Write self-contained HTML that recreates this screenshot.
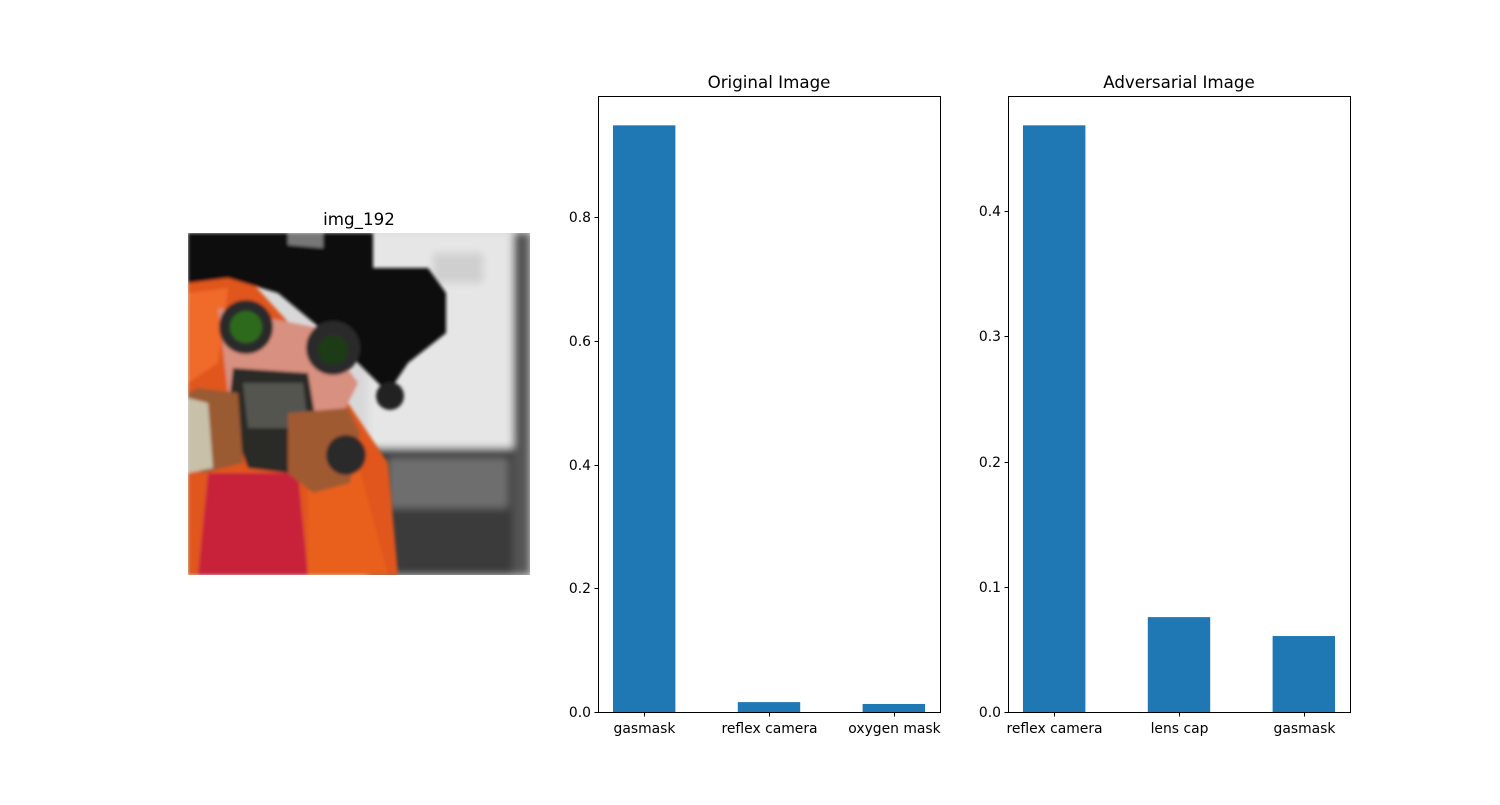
<!DOCTYPE html>
<html><head><meta charset="utf-8"><style>
html,body{margin:0;padding:0;background:#fff;}
svg text{font-family:"DejaVu Sans","Liberation Sans",sans-serif;}
</style></head><body>
<svg id="fig" width="1500" height="800" viewBox="0 0 1500 800">
<g>
<text x="359" y="225" font-size="16.7" text-anchor="middle">img_192</text>
<svg x="188" y="233" width="342" height="342" viewBox="0 0 342 342">
<defs>
<filter id="bl"><feGaussianBlur stdDeviation="4"/></filter>
<filter id="bl2"><feGaussianBlur stdDeviation="1.5"/></filter>
</defs>
<rect width="342" height="342" fill="#d8d8d8"/>
<g filter="url(#bl)">
<rect x="180" y="0" width="162" height="220" fill="#e6e6e6"/>
<rect x="180" y="215" width="162" height="127" fill="#3a3a3a"/>
<rect x="200" y="225" width="120" height="50" fill="#6e6e6e"/>
<rect x="325" y="0" width="17" height="342" fill="#555"/>
<rect x="245" y="20" width="50" height="30" fill="#cfcfcf"/>
</g>
<g filter="url(#bl2)">
<path d="M0 40 L60 45 L110 100 L160 170 L200 230 L210 342 L0 342 Z" fill="#e0561e"/>
<path d="M0 60 L40 55 L30 130 L0 150 Z" fill="#f06a2a"/>
<path d="M20 240 L110 240 L120 342 L10 342 Z" fill="#c8203a"/>
<path d="M120 240 L170 230 L200 342 L120 342 Z" fill="#e8601e"/>
<path d="M0 0 L185 0 L185 35 L240 35 L258 60 L258 100 L220 130 L200 160 L150 110 L90 60 L40 45 L0 50 Z" fill="#111"/>
<path d="M100 0 L135 0 L135 15 L100 12 Z" fill="#777"/>
<path d="M30 75 L130 95 L170 150 L150 190 L100 200 L40 160 Z" fill="#d89080"/>
<circle cx="58" cy="94" r="27" fill="#2a2a2a"/>
<circle cx="58" cy="94" r="16" fill="#2e6a1e"/>
<circle cx="145" cy="115" r="27" fill="#2a2a2a"/>
<circle cx="145" cy="117" r="15" fill="#1c3a18"/>
<circle cx="202" cy="163" r="14" fill="#222"/>
<path d="M45 135 L120 140 L130 200 L100 240 L60 235 L40 180 Z" fill="#2a2a28"/>
<path d="M55 150 L115 150 L120 195 L60 195 Z" fill="#555550"/>
<path d="M10 155 L50 160 L55 230 L15 240 L0 230 L0 160 Z" fill="#9a5a30"/>
<path d="M0 165 L20 170 L25 235 L0 240 Z" fill="#c8c0a8"/>
<path d="M100 180 L160 175 L172 200 L162 250 L125 260 L100 240 Z" fill="#a05a30"/>
<circle cx="158" cy="222" r="20" fill="#2a2a2a"/>
</g>
</svg>
</g>
<g id="c1"></g>
<g id="c2"></g>
</svg>
<script>
const origCategories = ["gasmask","reflex camera","oxygen mask"];
const origValues = [0.949, 0.016, 0.013];
const origTicks = [0.0,0.2,0.4,0.6,0.8];
const advCategories = ["reflex camera","lens cap","gasmask"];
const advValues = [0.4687, 0.0758, 0.0607];
const advTicks = [0.0,0.1,0.2,0.3,0.4];
const NS="http://www.w3.org/2000/svg";
function mk(parent,tag,attrs,txt){const e=document.createElementNS(NS,tag);for(const k in attrs)e.setAttribute(k,attrs[k]);if(txt!==undefined)e.textContent=txt;parent.appendChild(e);return e;}
function chart(gid,left,title,cats,vals,ticks,prefix){
  const g=document.getElementById(gid);
  const top=96,bottom=712,w=342;
  const ymax=Math.max(...vals)*1.05;
  const y=v=>bottom-(v/ymax)*(bottom-top);
  const x0=-0.37,x1=cats.length-1+0.37;
  const x=i=>left+(i-x0)/(x1-x0)*w;
  const bw=0.5/(x1-x0)*w;
  vals.forEach((v,i)=>{
    const r=mk(g,"rect",{x:x(i)-bw/2,y:y(v),width:bw,height:bottom-y(v),fill:"#1f77b4"});
    
    
  });
  const f=mk(g,"rect",{x:left+0.5,y:top+0.5,width:w,height:bottom-top,fill:"none",stroke:"#000","stroke-width":1});
  
  
  ticks.forEach(t=>{
    const yy=Math.round(y(t))+0.5;
    const l=mk(g,"line",{x1:left-3.5,x2:left+0.5,y1:yy,y2:yy,stroke:"#000"});
    
    
    const tx=mk(g,"text",{x:left-7,y:yy+4.5,"font-size":13.9,"text-anchor":"end"},t.toFixed(1));
    
    
  });
  cats.forEach((c,i)=>{
    const xx=Math.round(x(i))+0.5;
    const l=mk(g,"line",{x1:xx,x2:xx,y1:bottom+0.5,y2:bottom+4.5,stroke:"#000"});
    
    
    const tx=mk(g,"text",{x:xx,y:bottom+21,"font-size":13.9,"text-anchor":"middle"},c);
    
    
  });
  const t=mk(g,"text",{x:left+w/2,y:top-8,"font-size":16.7,"text-anchor":"middle"},title);
  
  
}
chart("c1",598,"Original Image",origCategories,origValues,origTicks,"original");
chart("c2",1008,"Adversarial Image",advCategories,advValues,advTicks,"adversarial");
</script>
</body></html>
